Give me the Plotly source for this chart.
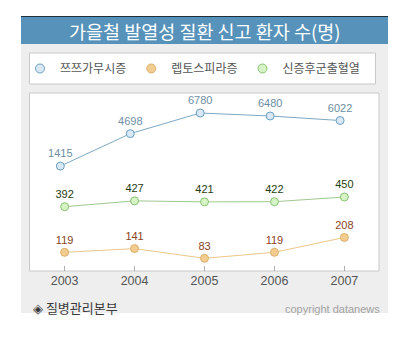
import plotly.graph_objects as go

years = [2003, 2004, 2005, 2006, 2007]
tsutsugamushi = [1415, 4698, 6780, 6480, 6022]
leptospirosis = [119, 141, 83, 119, 208]
hfrs = [392, 427, 421, 422, 450]
names = ["쯔쯔가무시증", "렙토스피라증", "신증후군출혈열"]
title_text = "가을철 발열성 질환 신고 환자 수(명)"
source_text = "◈ 질병관리본부"
copyright_text = "copyright datanews"

W, H = 414, 353
L, R, T, B = 30, 35, 93, 82
PW, PH = W - L - R, H - T - B


def px(x):
    return (x - L) / PW


def py(y):
    return (H - B - y) / PH


KR = "Noto Sans CJK KR"
NUM = "Liberation Sans, Arial"

styles = [
    dict(line="#7ea8c4", fill="#d8e9f5", edge="#6a9dc0", text="#6d8ea3"),
    dict(line="#ebc78a", fill="#f2cd8f", edge="#dbb06e", text="#8a4426"),
    dict(line="#9fc98f", fill="#d6f3c6", edge="#88c272", text="#1f3d12"),
]
series = [tsutsugamushi, leptospirosis, hfrs]
axes = [("x2", "y2"), ("x", "y"), ("x", "y")]

fig = go.Figure()

for name, vals, st, (xa, ya) in zip(names, series, styles, axes):
    fig.add_trace(go.Scatter(
        x=years, y=vals, name=name, mode="lines+markers+text",
        xaxis=xa, yaxis=ya, showlegend=False,
        line=dict(color=st["line"], width=1),
        marker=dict(size=8, color=st["fill"], line=dict(color=st["edge"], width=1)),
        text=[str(v) for v in vals], textposition="top center",
        textfont=dict(family="Liberation Sans", size=11, color=st["text"]),
    ))

# legend entries (marker-only icons)
for name, st in zip(names, styles):
    fig.add_trace(go.Scatter(
        x=[None], y=[None], name=name, mode="markers", showlegend=True,
        marker=dict(size=9, color=st["fill"], line=dict(color=st["edge"], width=1)),
    ))

shapes = [
    dict(type="rect", xref="paper", yref="paper", x0=px(21), x1=px(388), y0=py(313), y1=py(17),
         fillcolor="#eeeeee", line=dict(width=0), layer="below"),
    dict(type="rect", xref="paper", yref="paper", x0=px(21), x1=px(388), y0=py(44), y1=py(17),
         fillcolor="#5692ba", line=dict(width=0), layer="below"),
    dict(type="line", xref="paper", yref="paper", x0=px(21), x1=px(388), y0=py(16.5), y1=py(16.5),
         line=dict(color="#1e2f3c", width=1), layer="below"),
    dict(type="rect", xref="paper", yref="paper", x0=px(29.5), x1=px(375.5), y0=py(84), y1=py(53),
         fillcolor="white", line=dict(color="#c9c9c9", width=1), layer="below"),
    dict(type="rect", xref="paper", yref="paper", x0=px(29.5), x1=px(379), y0=py(271), y1=py(93),
         fillcolor="white", line=dict(color="#c9c9c9", width=1), layer="below"),
]

annotations = [
    dict(text=title_text, xref="paper", yref="paper", x=px(204.5), y=py(31), showarrow=False,
         xanchor="center", yanchor="middle", font=dict(family=KR, size=18.5, color="white")),
    dict(text=source_text, xref="paper", yref="paper", x=px(31), y=py(307.5), showarrow=False,
         xanchor="left", yanchor="middle", font=dict(family=KR, size=13, color="#3a3a3a")),
    dict(text=copyright_text, xref="paper", yref="paper", x=px(381.5), y=py(309), showarrow=False,
         xanchor="right", yanchor="middle", font=dict(family="Liberation Sans", size=11, color="#a3a3a3")),
]

fig.update_layout(
    width=W, height=H, autosize=False,
    margin=dict(l=L, r=R, t=T, b=B, pad=0),
    paper_bgcolor="white", plot_bgcolor="rgba(0,0,0,0)",
    shapes=shapes, annotations=annotations,
    showlegend=True,
    legend=dict(orientation="h", x=px(20), y=py(68.5), xanchor="left", yanchor="middle",
                bgcolor="rgba(0,0,0,0)", font=dict(family=KR, size=12, color="#555555"),
                itemwidth=30, traceorder="normal"),
    xaxis=dict(range=[2002.505, 2007.495], tickvals=years, ticktext=[str(y) for y in years],
               ticks="inside", ticklen=5, tickcolor="#b0b0b0", showgrid=False, zeroline=False,
               showline=False, tickfont=dict(family=NUM, size=12.5, color="#555555"), fixedrange=True),
    xaxis2=dict(range=[2002.566, 2007.556], overlaying="x", visible=False),
    yaxis=dict(range=[7, 1073], visible=False),
    yaxis2=dict(range=[-9181, 8803], overlaying="y", visible=False),
)

fig.write_html("out.html")
